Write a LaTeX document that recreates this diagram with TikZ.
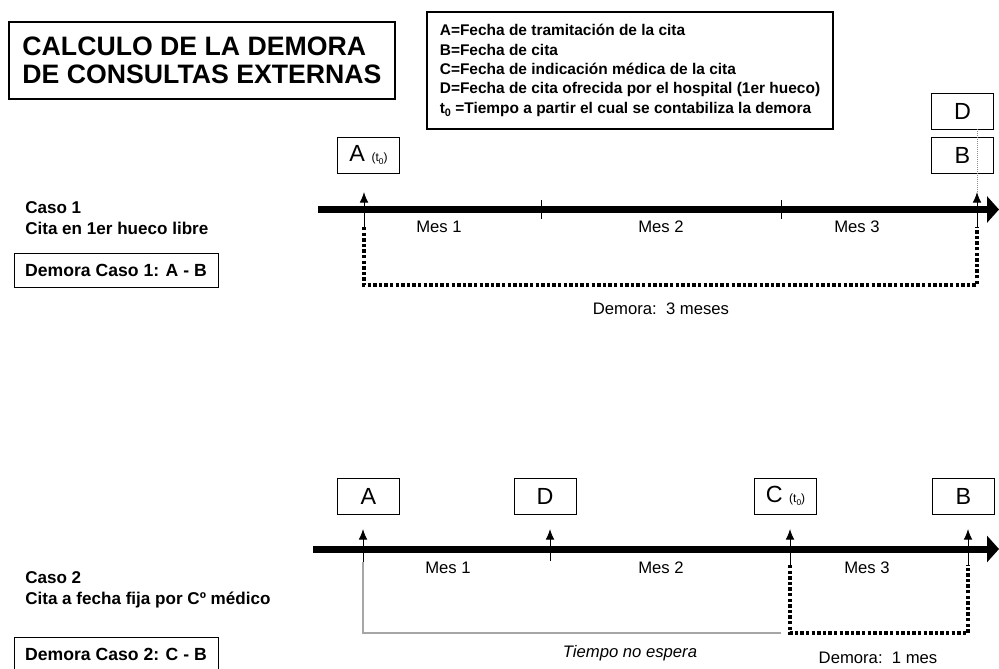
\documentclass[tikz,border=0pt]{standalone}
\usepackage{fontspec}
\setmainfont{Liberation Sans}
\usetikzlibrary{arrows.meta,positioning}
\newcommand\subcero{\raisebox{-0.4ex}{\scalebox{0.7}{0}}}
\newcommand\tcero{{\fontsize{9}{10}\selectfont(t\subcero)}}

\begin{document}
\begin{tikzpicture}[x=0.75pt,y=-0.75pt]%
\useasboundingbox (0,0) rectangle (999,668);
\tikzstyle{letra}=[draw,line width=.6pt,inner sep=0pt,minimum width=46.5pt,minimum height=27pt,font=\fontsize{17.5}{17.5}\selectfont]
\tikzstyle{eje}=[line width=5.25pt,-{Triangle[length=9pt,width=19.5pt]}]
\tikzstyle{flecha}=[line width=.7pt,-{Latex[length=8pt,width=6.5pt]}]
\tikzstyle{demora}=[line width=2.8pt,dash pattern=on 2.6pt off 1.6pt]
\tikzstyle{espera}=[line width=2pt,black!35]
\tikzstyle{mes}=[anchor=base,font=\fontsize{12.5}{13}\selectfont]
\tikzstyle{caso}=[anchor=base west,inner sep=0pt,font=\bfseries\fontsize{12.8}{13}\selectfont]
\tikzstyle{dcaso}=[draw,line width=.7pt,inner sep=0pt,minimum width=153pt,minimum height=25.5pt,font=\bfseries\fontsize{13.2}{14}\selectfont]
%% titulo y leyenda
\node[draw,line width=.8pt,align=left,inner sep=0pt,minimum width=289.5pt,minimum height=57.75pt,font=\bfseries\fontsize{20}{21}\selectfont] (titulo) at (202,60.5) {CALCULO DE LA DEMORA\\DE CONSULTAS EXTERNAS}; %%
\node[draw,line width=.8pt,align=left,inner sep=0pt,minimum width=304.5pt,minimum height=87.75pt,font=\bfseries\fontsize{11.6}{14.6}\selectfont] (leyenda) at (630,70.5) {A=Fecha de tramitación de la cita\\B=Fecha de cita\\C=Fecha de indicación médica de la cita\\D=Fecha de cita ofrecida por el hospital (1er hueco)\\t\subcero\ =Tiempo a partir el cual se contabiliza la demora}; %%
%% caso 1
\begin{scope}
\node[letra] (a1) at (368.5,155) {A \tcero}; %%
\node[letra] (b1) at (962.5,155) {B}; %%
\node[letra] (d1) at (962.5,111) {D}; %%
\node[caso] (c1) at (25,213) {Caso 1}; %%
\node[caso] (c1t) at (25,234) {Cita en 1er hueco libre}; %%
\node[dcaso] (dc1) at (116,270) {Demora Caso 1: A - B}; %%
\node[mes] (m11) at (439,232) {Mes 1}; %%
\node[mes] (m12) at (661,232) {Mes 2}; %%
\node[mes] (m13) at (857,232) {Mes 3}; %%
\node[mes] (dm1) at (661,314) {Demora:\ \ 3 meses}; %%
\coordinate (e1i) at (318,209.5); %%
\coordinate (e1f) at (999,209.5); %%
\coordinate (pa1) at (364,227); \coordinate (ta1) at (364,192); %%
\coordinate (pb1) at (977,227); \coordinate (tb1) at (977,192); %%
\coordinate (db1) at (977,129); %%
\coordinate (fa1) at (364,285); \coordinate (fb1) at (977,285); %%
\coordinate (k11) at (541,200); \coordinate (k12) at (541,219); %%
\coordinate (k21) at (781,200); \coordinate (k22) at (781,219); %%
\end{scope}
\draw[eje] (e1i)--(e1f); %%
\draw[line width=.5pt] (k11)--(k12); %%
\draw[line width=.5pt] (k21)--(k22); %%
\draw[black!45,line width=.5pt,densely dotted] (db1)--(tb1); %%
\draw[flecha] (pa1)--(ta1); %%
\draw[flecha] (pb1)--(tb1); %%
\draw[demora] (pa1)--(fa1)--(fb1)--(pb1); %%
%% caso 2
\begin{scope}
\node[letra] (a2) at (368.5,496) {A}; %%
\node[letra] (d2) at (545,496) {D}; %%
\node[letra] (cc2) at (785.5,496) {C \tcero}; %%
\node[letra] (b2) at (963.5,496) {B}; %%
\node[caso] (c2) at (25,583) {Caso 2}; %%
\node[caso] (c2t) at (25,604) {Cita a fecha fija por Cº médico}; %%
\node[dcaso] (dc2) at (116,654) {Demora Caso 2: C - B}; %%
\node[mes] (m21) at (448,573) {Mes 1}; %%
\node[mes] (m22) at (661,573) {Mes 2}; %%
\node[mes] (m23) at (867,573) {Mes 3}; %%
\node[mes,font=\itshape\fontsize{12.5}{13}\selectfont] (te2) at (630,657) {Tiempo no espera}; %%
\node[mes] (dm2) at (878,663) {Demora:\ \ 1 mes}; %%
\coordinate (e2i) at (313,549); %%
\coordinate (e2f) at (999,549); %%
\coordinate (pa2) at (363,562); \coordinate (ta2) at (363,529); %%
\coordinate (pd2) at (550,561); \coordinate (td2) at (550,529); %%
\coordinate (pc2) at (790,565); \coordinate (tc2) at (790,529); %%
\coordinate (pb2) at (968,565); \coordinate (tb2) at (968,529); %%
\coordinate (ga2) at (363,633); \coordinate (gc2) at (781,633); %%
\coordinate (fc2) at (790,633); \coordinate (fb2) at (968,633); %%
\end{scope}
\draw[eje] (e2i)--(e2f); %%
\draw[flecha] (pa2)--(ta2); %%
\draw[flecha] (pd2)--(td2); %%
\draw[flecha] (pc2)--(tc2); %%
\draw[flecha] (pb2)--(tb2); %%
\draw[espera] (pa2)--(ga2)--(gc2); %%
\draw[demora] (pc2)--(fc2)--(fb2)--(pb2); %%
\end{tikzpicture}
\end{document}
